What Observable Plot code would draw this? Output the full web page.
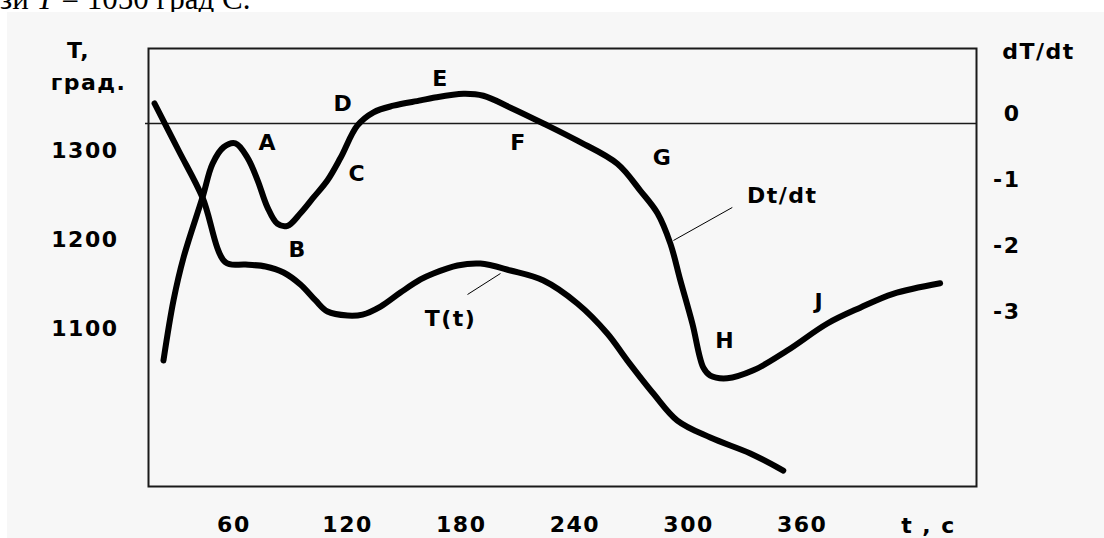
<!DOCTYPE html>
<html><head><meta charset="utf-8">
<script src="https://cdn.jsdelivr.net/npm/d3@7"></script>
<script src="https://cdn.jsdelivr.net/npm/@observablehq/plot@0.6"></script>
<style>
html,body{margin:0;padding:0;background:#fff;}
#top{position:relative;height:12px;overflow:hidden;background:#fff;}
#top span{position:absolute;left:0;top:-19px;font:31px "Liberation Serif";white-space:nowrap;color:#000}
#chart{margin-left:7px;width:1097px;height:526px;background:#f7f7f7;}
#chart svg text{letter-spacing:1.5px;}
</style></head><body>
<div id="top"><span>зи <i>T</i> = 1050 град С.</span></div>
<div id="chart"></div>
<script>
// T(t) curve
const tTime = [18.1, 30.8, 43.4, 55.6, 66.1, 76.7, 86.2, 95.1, 103.1, 109.4, 120.0, 127.9, 137.4, 147.9, 158.5, 165.3, 178.0, 190.1, 206.0, 223.4, 241.3, 257.1, 267.7, 281.4, 294.1, 311.5, 332.6, 350.0];
const tValue = [1352.8, 1300.0, 1247.2, 1174.2, 1171.9, 1169.7, 1162.9, 1149.4, 1131.5, 1119.1, 1114.6, 1115.7, 1124.7, 1140.4, 1155.1, 1161.8, 1170.8, 1173.0, 1165.2, 1153.9, 1128.1, 1094.4, 1064.0, 1027.0, 996.6, 977.5, 959.6, 940.4];
// dT/dt curve
const dTime = [22.8, 28.1, 33.4, 43.4, 48.7, 54.5, 60.8, 67.2, 72.5, 77.7, 83.0, 88.3, 95.1, 102.0, 109.4, 116.3, 125.2, 133.7, 144.2, 158.5, 165.3, 181.2, 191.7, 206.0, 223.4, 241.3, 262.4, 274.6, 283.6, 290.4, 295.7, 302.0, 307.8, 311.5, 320.4, 334.2, 352.1, 373.3, 390.6, 408.0, 432.8];
const dValue = [-3.59, -2.68, -2.03, -1.12, -0.61, -0.36, -0.30, -0.52, -0.86, -1.27, -1.52, -1.55, -1.36, -1.12, -0.86, -0.52, -0.03, 0.17, 0.27, 0.35, 0.39, 0.45, 0.42, 0.24, 0.00, -0.26, -0.61, -1.02, -1.36, -1.82, -2.38, -3.03, -3.70, -3.82, -3.86, -3.74, -3.44, -3.03, -2.79, -2.58, -2.42];
// ticks
const xTicks = [60, 120, 180, 240, 300, 360];
const yTicksT = [1100, 1200, 1300];
const yTicksD = [0, -1, -2, -3];
// point annotations
const labels = ["A", "B", "C", "D", "E", "F", "G", "H", "J", "T(t)", "Dt/dt"];
const labelTime = [77.8, 93.6, 125.2, 117.8, 169.0, 210.2, 286.2, 319.4, 369.0, 174.3, 349.5];
const labelValue = [1309.0, 1188.8, 1274.2, 1352.8, 1380.9, 1309.0, 1292.1, 1086.5, 1130.3, 1111.2, 1249.4];
// leader lines
const leaderTime1 = [183.3, 292.0];
const leaderValue1 = [1138.2, 1198.9];
const leaderTime2 = [200.7, 323.1];
const leaderValue2 = [1161.8, 1236.0];

// secondary axis mapping dT/dt -> T scale
const D0 = 1330.34, DK = 74.16;
const dToT = d => D0 + DK * d;
const tToD = v => Math.round((v - D0) / DK);

const tData = tTime.map((t, i) => ({t, v: tValue[i]}));
const dData = dTime.map((t, i) => ({t, v: dToT(dValue[i])}));
const lblData = labels.map((s, i) => ({s, t: labelTime[i], v: labelValue[i]}));
const leaders = leaderTime1.map((t, i) => ({t1: t, v1: leaderValue1[i], t2: leaderTime2[i], v2: leaderValue2[i]}));

const font = {fontFamily: "DejaVu Sans", fontSize: 22, fontWeight: "bold"};

const chart = Plot.plot({
  width: 1097, height: 526,
  marginLeft: 141, marginRight: 128, marginTop: 36, marginBottom: 52,
  style: {fontFamily: "DejaVu Sans", fontSize: "22px", fontWeight: "bold", background: "#f7f7f7", color: "#000", overflow: "visible"},
  x: {domain: [14.9, 452]},
  y: {domain: [922.5, 1414.6]},
  marks: [
    Plot.ruleY([dToT(0)], {stroke: "#1a1a1a", strokeWidth: 1.5, insetLeft: -3}),
    Plot.frame({stroke: "#1a1a1a", strokeWidth: 2}),
    Plot.axisX({ticks: xTicks, tickSize: 0, tickPadding: 30, tickFormat: d => String(d), label: null, ...font}),
    Plot.axisY({anchor: "left", ticks: yTicksT, tickSize: 0, tickPadding: 30, tickFormat: d => String(d), label: null, ...font}),
    Plot.axisY({anchor: "right", ticks: yTicksD.map(dToT), tickSize: 0, tickPadding: 44, textAnchor: "end", dy: -10, tickFormat: v => String(tToD(v)), label: null, ...font}),
    Plot.line(dData, {x: "t", y: "v", stroke: "#000", strokeWidth: 6, strokeLinejoin: "round", curve: "catmull-rom"}),
    Plot.line(tData, {x: "t", y: "v", stroke: "#000", strokeWidth: 6, strokeLinejoin: "round", curve: "catmull-rom"}),
    Plot.link(leaders, {x1: "t1", y1: "v1", x2: "t2", y2: "v2", stroke: "#000", strokeWidth: 1}),
    Plot.text(lblData, {x: "t", y: "v", text: "s", textAnchor: "middle", lineAnchor: "middle", fill: "#000", ...font}),
    Plot.text(["T,"], {frameAnchor: "top-left", dx: -70, dy: 2, textAnchor: "middle", lineAnchor: "middle", ...font}),
    Plot.text(["град."], {frameAnchor: "top-left", dx: -60, dy: 34, textAnchor: "middle", lineAnchor: "middle", ...font}),
    Plot.text(["dT/dt"], {frameAnchor: "top-right", dx: 62, dy: 3, textAnchor: "middle", lineAnchor: "middle", ...font}),
    Plot.text(["t , c"], {frameAnchor: "bottom-right", dx: -48, dy: 39, textAnchor: "middle", lineAnchor: "middle", ...font})
  ]
});
document.getElementById("chart").appendChild(chart);
</script>
</body></html>
